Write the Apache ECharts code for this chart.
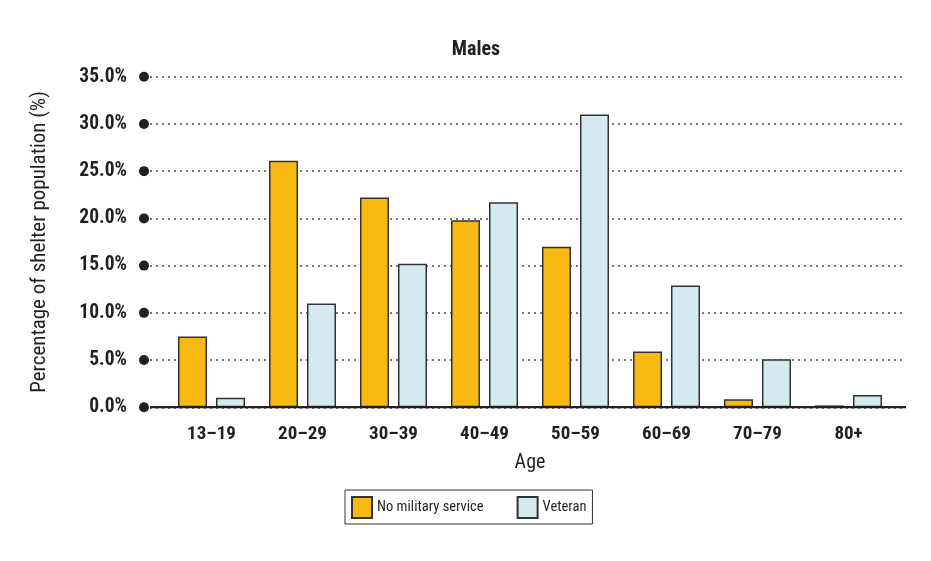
<!DOCTYPE html>
<html><head><meta charset="utf-8">
<script src="https://cdn.jsdelivr.net/npm/echarts@6/dist/echarts.min.js"></script>
<style>html,body{margin:0;padding:0;background:#fff}#c{width:931px;height:561px}</style>
</head><body><div id="c"></div>
<script>
const categories = ['13–19','20–29','30–39','40–49','50–59','60–69','70–79','80+'];
const noMilitary = [7.5, 26.1, 22.2, 19.8, 17.0, 5.9, 0.85, 0.2];
const veteran = [1.0, 11.0, 15.2, 21.7, 31.0, 12.9, 5.1, 1.3];
const yTicks = [0, 5, 10, 15, 20, 25, 30, 35];
const seriesNames = ['No military service', 'Veteran'];

const FN = "'Roboto Condensed', 'Arial Narrow', 'Liberation Sans Narrow', Roboto, sans-serif";
const chart = echarts.init(document.getElementById('c'));
const top0 = 76.7, bottom0 = 561 - 407.3;
chart.setOption({
  animation: false,
  title: { text: 'Males', left: 471, top: 35, textAlign: 'center',
    textStyle: { fontFamily: FN, fontWeight: 'bold', fontSize: 20, color: '#231f20' } },
  legend: {
    left: 345, top: 490, orient: 'horizontal',
    data: seriesNames, icon: 'rect',
    itemWidth: 20, itemHeight: 21, itemGap: 33,
    padding: [6, 6, 5, 6],
    borderColor: '#333', borderWidth: 1,
    textStyle: { fontFamily: FN, fontSize: 14.5, color: '#231f20' }
  },
  grid: [
    { left: 144, right: 25, top: top0, bottom: bottom0 },
    { left: 166, right: 37, top: top0, bottom: bottom0 }
  ],
  xAxis: [
    { gridIndex: 0, type: 'value', min: 0, max: 1, show: true,
      axisLine: { show: false }, axisTick: { show: false }, axisLabel: { show: false }, splitLine: { show: false } },
    { gridIndex: 1, type: 'category', data: categories,
      axisLine: { show: false }, axisTick: { show: false },
      axisLabel: { margin: 17, fontFamily: FN, fontWeight: 'bold', fontSize: 19, color: '#231f20' },
      name: 'Age', nameLocation: 'middle', nameGap: 46,
      nameTextStyle: { fontFamily: FN, fontSize: 20, color: '#231f20' } }
  ],
  yAxis: [
    { gridIndex: 0, type: 'value', min: 0, max: 35, interval: 5,
      axisLine: { show: false }, axisTick: { show: false },
      axisLabel: { margin: 17, fontFamily: FN, fontWeight: 'bold', fontSize: 19.5, color: '#231f20',
        formatter: v => v.toFixed(1) + '%' },
      splitLine: { show: true, lineStyle: { type: [2, 4], width: 2, color: '#777' } },
      name: 'Percentage of shelter population (%)', nameLocation: 'middle', nameGap: 94,
      nameTextStyle: { fontFamily: FN, fontSize: 21, color: '#231f20' } },
    { gridIndex: 1, type: 'value', min: 0, max: 35, interval: 5, show: false }
  ],
  series: [
    { type: 'line', xAxisIndex: 0, yAxisIndex: 0, data: [[0.008, 0], [1, 0]],
      symbol: 'none', lineStyle: { color: '#231f20', width: 2.5 }, silent: true, z: 5 },
    { type: 'scatter', xAxisIndex: 0, yAxisIndex: 0, data: yTicks.map(t => [0, t]),
      symbol: 'circle', symbolSize: 10, itemStyle: { color: '#231f20', opacity: 1 }, clip: false, silent: true, z: 6 },
    { name: seriesNames[0], type: 'bar', xAxisIndex: 1, yAxisIndex: 1, data: noMilitary,
      barWidth: 29, barGap: '31%',
      itemStyle: { color: '#F8B913', borderColor: '#333', borderWidth: 1.5 }, z: 4 },
    { name: seriesNames[1], type: 'bar', xAxisIndex: 1, yAxisIndex: 1, data: veteran,
      barWidth: 29, barGap: '31%',
      itemStyle: { color: '#D4EAEE', borderColor: '#333', borderWidth: 1.5 }, z: 4 }
  ]
});
</script></body></html>
